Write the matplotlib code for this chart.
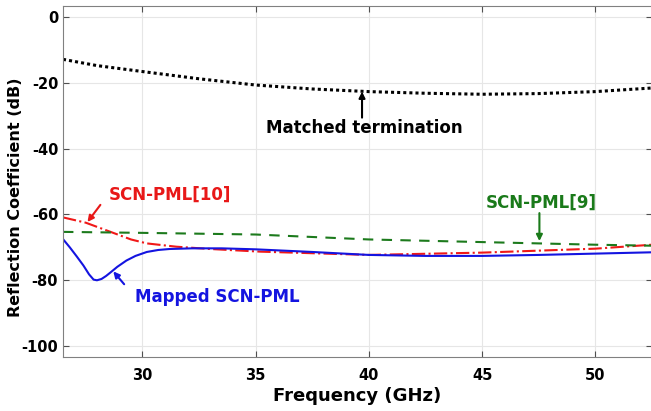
import matplotlib
matplotlib.use('Agg')
from matplotlib import pyplot as plt

plt.rcParams['font.family'] = ['DejaVu Sans']
plt.rcParams['font.weight'] = 'bold'
plt.rcParams['axes.unicode_minus'] = False

# Matched termination (dotted black)
f_match = [26.5, 28.0, 30.0, 32.5, 35.0, 37.5, 40.0, 42.5, 45.0, 47.5, 50.0, 52.5]
r_match = [-12.9, -14.8, -16.6, -18.8, -20.7, -21.9, -22.7, -23.2, -23.5, -23.3, -22.7, -21.6]

# SCN-PML[10] (red dash-dot)
f_pml10 = [26.5, 27.5, 28.6, 29.5, 30.2, 31.5, 33.0, 35.2, 40.0, 45.0, 50.0, 52.5]
r_pml10 = [-60.9, -62.5, -65.3, -67.6, -68.8, -69.8, -70.5, -71.3, -72.3, -71.6, -70.4, -69.2]

# SCN-PML[9] (green dashed)
f_pml9 = [26.5, 30.0, 35.0, 40.0, 45.0, 50.0, 52.5]
r_pml9 = [-65.3, -65.6, -66.1, -67.6, -68.4, -69.2, -69.5]

# Mapped SCN-PML (blue solid)
f_map = [26.5, 26.8, 27.1, 27.4, 27.65, 27.85, 28.0, 28.2, 28.4, 28.6, 28.9, 29.3, 29.7,
         30.2, 30.7, 31.2, 32.2, 33.5, 35.0, 37.5, 40.0, 42.5, 45.0, 47.5, 50.0, 52.5]
r_map = [-67.5, -70.0, -72.7, -75.5, -78.2, -79.8, -80.0, -79.6, -78.7, -77.6, -75.9, -74.0, -72.6,
         -71.4, -70.8, -70.5, -70.3, -70.3, -70.6, -71.4, -72.3, -72.6, -72.6, -72.3, -71.9, -71.5]

fig = plt.figure(figsize=(6.51, 4.11), dpi=100)
ax = fig.add_axes([63 / 651, 54 / 411, 589 / 651, 351 / 411])

ax.plot(f_match, r_match, color='black', linestyle=(0, (1, 1)), linewidth=2.2)
ax.plot(f_pml10, r_pml10, color='#f01818', linestyle='-.', linewidth=1.5)
ax.plot(f_pml9, r_pml9, color='#1c7a1c', linestyle=(0, (5, 4)), linewidth=1.5)
ax.plot(f_map, r_map, color='#1414e0', linestyle='-', linewidth=1.5)

ax.set_xlim(26.5, 52.5)
ax.set_ylim(-103.3, 3.3)
ax.set_xticks([30, 35, 40, 45, 50])
ax.set_yticks([-100, -80, -60, -40, -20, 0])
ax.grid(True, color='#e6e6e6', linewidth=0.8)
ax.tick_params(direction='in', top=True, right=True, labelsize=10.5, length=4, color='#505050')
ax.tick_params(axis='x', pad=8)
for s in ax.spines.values():
    s.set_color('#808080')
ax.set_xlabel('Frequency (GHz)', fontsize=13, fontweight='bold')
ax.set_ylabel('Reflection Coefficient (dB)', fontsize=11.5, fontweight='bold')
ax.xaxis.set_label_coords(0.5, -0.085)
ax.yaxis.set_label_coords(-0.068, 0.456)

arr = dict(arrowstyle='-|>', mutation_scale=9, linewidth=1.5, shrinkA=0, shrinkB=0)

ax.text(39.8, -33.7, 'Matched termination', ha='center', va='center', fontsize=12, color='black')
ax.annotate('', xy=(39.7, -22.7), xytext=(39.7, -30.6), arrowprops=dict(arr, color='black'))

ax.text(31.2, -54.1, 'SCN-PML[10]', ha='center', va='center', fontsize=12, color='#e81818')
ax.annotate('', xy=(27.58, -62.3), xytext=(28.15, -57.1), arrowprops=dict(arr, color='#e81818'))

ax.text(47.6, -56.4, 'SCN-PML[9]', ha='center', va='center', fontsize=12, color='#1a7a1a')
ax.annotate('', xy=(47.53, -68.1), xytext=(47.53, -59.6), arrowprops=dict(arr, color='#1a7a1a'))

ax.text(33.3, -85.0, 'Mapped SCN-PML', ha='center', va='center', fontsize=12, color='#1414e0')
ax.annotate('', xy=(28.72, -77.3), xytext=(29.2, -81.2), arrowprops=dict(arr, color='#1414e0'))

fig.savefig('out.png', dpi=100)
